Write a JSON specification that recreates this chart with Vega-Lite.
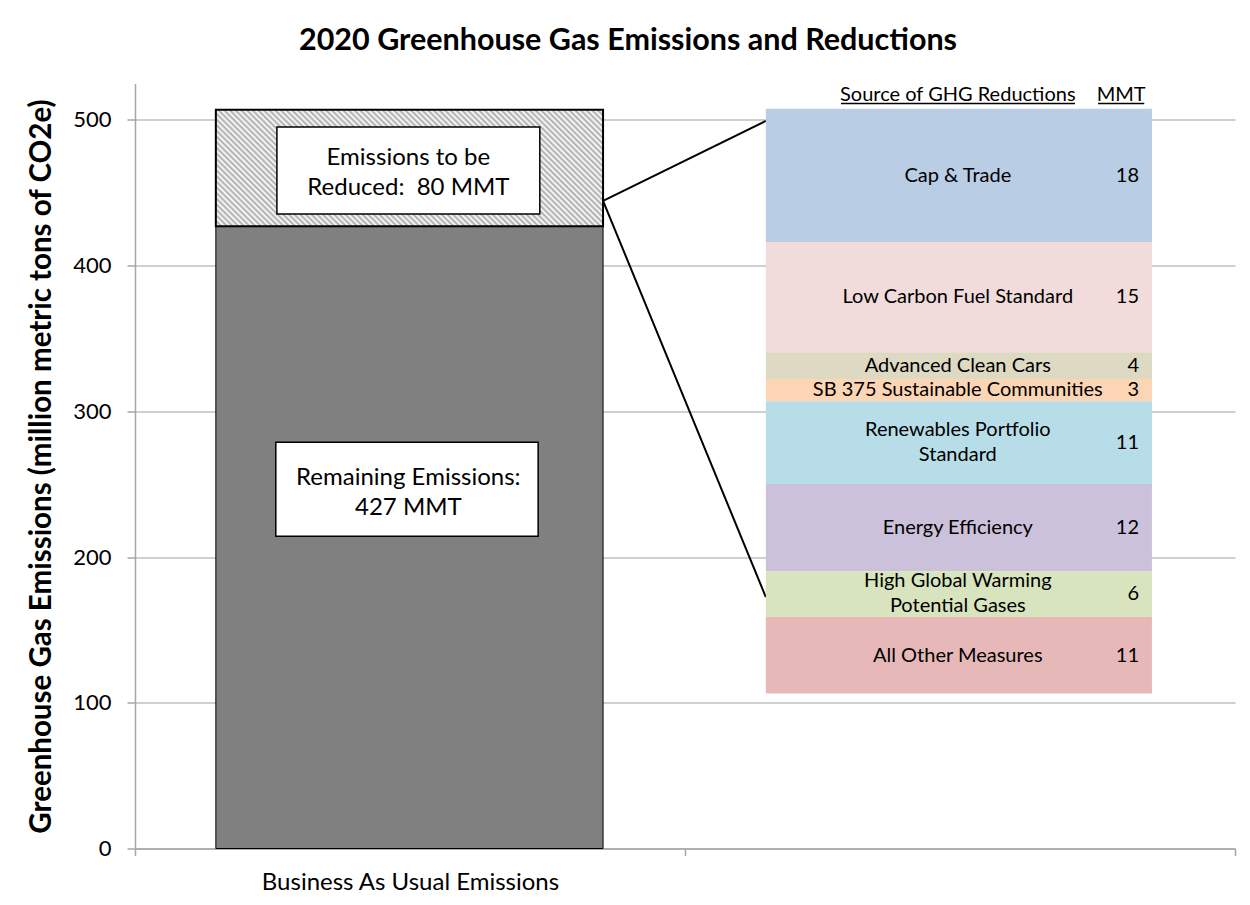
{
  "$schema": "https://vega.github.io/schema/vega-lite/v6.json",
  "width": 1100,
  "height": 765,
  "padding": {"left": 26, "top": 25.5, "right": 15, "bottom": 10},
  "background": "white",
  "config": {"font": "Lato", "view": {"stroke": null}, "text": {"lineBreak": "\n"}},
  "title": {"text": "2020 Greenhouse Gas Emissions and Reductions", "fontSize": 30.5, "fontWeight": "bold", "color": "#000000", "frame": "group", "anchor": "middle", "baseline": "alphabetic", "dx": -57, "offset": 3},
  "datasets": {
    "blocks": [
      {"source": "Cap & Trade", "mmt": 18, "top": 507.6, "bottom": 416.3, "mid": 461.5, "labelY": 461.5},
      {"source": "Low Carbon Fuel Standard", "mmt": 15, "top": 416.3, "bottom": 340.6, "mid": 378.4, "labelY": 378.4},
      {"source": "Advanced Clean Cars", "mmt": 4, "top": 340.6, "bottom": 322.2, "mid": 331.2, "labelY": 331.2},
      {"source": "SB 375 Sustainable Communities", "mmt": 3, "top": 322.2, "bottom": 307.0, "mid": 315.0, "labelY": 315.0},
      {"source": "Renewables Portfolio\nStandard", "mmt": 11, "top": 307.0, "bottom": 250.2, "mid": 278.5, "labelY": 286.9},
      {"source": "Energy Efficiency", "mmt": 12, "top": 250.2, "bottom": 190.3, "mid": 220.0, "labelY": 220.0},
      {"source": "High Global Warming\nPotential Gases", "mmt": 6, "top": 190.3, "bottom": 158.9, "mid": 174.5, "labelY": 183.3},
      {"source": "All Other Measures", "mmt": 11, "top": 158.9, "bottom": 106.4, "mid": 132.3, "labelY": 132.3}
    ]
  },
  "resolve": {"axis": {"x": "independent"}},
  "layer": [
    {
      "data": {"values": [{"part": "Remaining Emissions", "lo": 0, "hi": 427}]},
      "mark": {"type": "rect", "fill": "#808080", "stroke": "#000000", "strokeWidth": 1},
      "encoding": {
        "x": {"datum": 0.147, "type": "quantitative", "scale": {"domain": [0, 2], "nice": false},
          "axis": {"orient": "bottom", "values": [0, 1, 2], "title": null, "grid": false, "labels": false,
            "domainColor": "#a6a6a6", "domainWidth": 1.5, "tickColor": "#a6a6a6", "tickSize": 7, "tickWidth": 1.5}},
        "x2": {"datum": 0.851},
        "y": {"field": "lo", "type": "quantitative", "scale": {"domain": [0, 525], "nice": false},
          "axis": {"values": [0, 100, 200, 300, 400, 500], "title": "Greenhouse Gas Emissions (million metric tons of CO2e)",
            "titleFontSize": 29.5, "titleFontWeight": "bold", "titleColor": "#000000", "titlePadding": 16,
            "grid": true, "gridColor": "#bfbfbf", "gridWidth": 1.5, "domainColor": "#a6a6a6", "domainWidth": 1.5,
            "tickColor": "#a6a6a6", "tickSize": 8, "tickWidth": 1.5, "labelFontSize": 22, "labelColor": "#000000", "labelPadding": 16}},
        "y2": {"field": "hi"}
      }
    },
    {
      "data": {"values": [{"part": "Emissions to be Reduced", "lo": 427, "hi": 507}]},
      "mark": {"type": "rect", "stroke": "#000000", "strokeWidth": 2,
        "fill": {"gradient": "linear", "x1": 0, "y1": 1, "x2": 1.34, "y2": 0.5965, "stops": [
          {"offset": 0, "color": "darkgray"}, {"offset": 0.005, "color": "white"}, {"offset": 0.01, "color": "darkgray"}, {"offset": 0.015, "color": "white"},
          {"offset": 0.02, "color": "darkgray"}, {"offset": 0.025, "color": "white"}, {"offset": 0.03, "color": "darkgray"}, {"offset": 0.035, "color": "white"},
          {"offset": 0.04, "color": "darkgray"}, {"offset": 0.045, "color": "white"}, {"offset": 0.05, "color": "darkgray"}, {"offset": 0.055, "color": "white"},
          {"offset": 0.06, "color": "darkgray"}, {"offset": 0.065, "color": "white"}, {"offset": 0.07, "color": "darkgray"}, {"offset": 0.075, "color": "white"},
          {"offset": 0.08, "color": "darkgray"}, {"offset": 0.085, "color": "white"}, {"offset": 0.09, "color": "darkgray"}, {"offset": 0.095, "color": "white"},
          {"offset": 0.1, "color": "darkgray"}, {"offset": 0.105, "color": "white"}, {"offset": 0.11, "color": "darkgray"}, {"offset": 0.115, "color": "white"},
          {"offset": 0.12, "color": "darkgray"}, {"offset": 0.125, "color": "white"}, {"offset": 0.13, "color": "darkgray"}, {"offset": 0.135, "color": "white"},
          {"offset": 0.14, "color": "darkgray"}, {"offset": 0.145, "color": "white"}, {"offset": 0.15, "color": "darkgray"}, {"offset": 0.155, "color": "white"},
          {"offset": 0.16, "color": "darkgray"}, {"offset": 0.165, "color": "white"}, {"offset": 0.17, "color": "darkgray"}, {"offset": 0.175, "color": "white"},
          {"offset": 0.18, "color": "darkgray"}, {"offset": 0.185, "color": "white"}, {"offset": 0.19, "color": "darkgray"}, {"offset": 0.195, "color": "white"},
          {"offset": 0.2, "color": "darkgray"}, {"offset": 0.205, "color": "white"}, {"offset": 0.21, "color": "darkgray"}, {"offset": 0.215, "color": "white"},
          {"offset": 0.22, "color": "darkgray"}, {"offset": 0.225, "color": "white"}, {"offset": 0.23, "color": "darkgray"}, {"offset": 0.235, "color": "white"},
          {"offset": 0.24, "color": "darkgray"}, {"offset": 0.245, "color": "white"}, {"offset": 0.25, "color": "darkgray"}, {"offset": 0.255, "color": "white"},
          {"offset": 0.26, "color": "darkgray"}, {"offset": 0.265, "color": "white"}, {"offset": 0.27, "color": "darkgray"}, {"offset": 0.275, "color": "white"},
          {"offset": 0.28, "color": "darkgray"}, {"offset": 0.285, "color": "white"}, {"offset": 0.29, "color": "darkgray"}, {"offset": 0.295, "color": "white"},
          {"offset": 0.3, "color": "darkgray"}, {"offset": 0.305, "color": "white"}, {"offset": 0.31, "color": "darkgray"}, {"offset": 0.315, "color": "white"},
          {"offset": 0.32, "color": "darkgray"}, {"offset": 0.325, "color": "white"}, {"offset": 0.33, "color": "darkgray"}, {"offset": 0.335, "color": "white"},
          {"offset": 0.34, "color": "darkgray"}, {"offset": 0.345, "color": "white"}, {"offset": 0.35, "color": "darkgray"}, {"offset": 0.355, "color": "white"},
          {"offset": 0.36, "color": "darkgray"}, {"offset": 0.365, "color": "white"}, {"offset": 0.37, "color": "darkgray"}, {"offset": 0.375, "color": "white"},
          {"offset": 0.38, "color": "darkgray"}, {"offset": 0.385, "color": "white"}, {"offset": 0.39, "color": "darkgray"}, {"offset": 0.395, "color": "white"},
          {"offset": 0.4, "color": "darkgray"}, {"offset": 0.405, "color": "white"}, {"offset": 0.41, "color": "darkgray"}, {"offset": 0.415, "color": "white"},
          {"offset": 0.42, "color": "darkgray"}, {"offset": 0.425, "color": "white"}, {"offset": 0.43, "color": "darkgray"}, {"offset": 0.435, "color": "white"},
          {"offset": 0.44, "color": "darkgray"}, {"offset": 0.445, "color": "white"}, {"offset": 0.45, "color": "darkgray"}, {"offset": 0.455, "color": "white"},
          {"offset": 0.46, "color": "darkgray"}, {"offset": 0.465, "color": "white"}, {"offset": 0.47, "color": "darkgray"}, {"offset": 0.475, "color": "white"},
          {"offset": 0.48, "color": "darkgray"}, {"offset": 0.485, "color": "white"}, {"offset": 0.49, "color": "darkgray"}, {"offset": 0.495, "color": "white"},
          {"offset": 0.5, "color": "darkgray"}, {"offset": 0.505, "color": "white"}, {"offset": 0.51, "color": "darkgray"}, {"offset": 0.515, "color": "white"},
          {"offset": 0.52, "color": "darkgray"}, {"offset": 0.525, "color": "white"}, {"offset": 0.53, "color": "darkgray"}, {"offset": 0.535, "color": "white"},
          {"offset": 0.54, "color": "darkgray"}, {"offset": 0.545, "color": "white"}, {"offset": 0.55, "color": "darkgray"}, {"offset": 0.555, "color": "white"},
          {"offset": 0.56, "color": "darkgray"}, {"offset": 0.565, "color": "white"}, {"offset": 0.57, "color": "darkgray"}, {"offset": 0.575, "color": "white"},
          {"offset": 0.58, "color": "darkgray"}, {"offset": 0.585, "color": "white"}, {"offset": 0.59, "color": "darkgray"}, {"offset": 0.595, "color": "white"},
          {"offset": 0.6, "color": "darkgray"}, {"offset": 0.605, "color": "white"}, {"offset": 0.61, "color": "darkgray"}, {"offset": 0.615, "color": "white"},
          {"offset": 0.62, "color": "darkgray"}, {"offset": 0.625, "color": "white"}, {"offset": 0.63, "color": "darkgray"}, {"offset": 0.635, "color": "white"},
          {"offset": 0.64, "color": "darkgray"}, {"offset": 0.645, "color": "white"}, {"offset": 0.65, "color": "darkgray"}, {"offset": 0.655, "color": "white"},
          {"offset": 0.66, "color": "darkgray"}, {"offset": 0.665, "color": "white"}, {"offset": 0.67, "color": "darkgray"}, {"offset": 0.675, "color": "white"},
          {"offset": 0.68, "color": "darkgray"}, {"offset": 0.685, "color": "white"}, {"offset": 0.69, "color": "darkgray"}, {"offset": 0.695, "color": "white"},
          {"offset": 0.7, "color": "darkgray"}, {"offset": 0.705, "color": "white"}, {"offset": 0.71, "color": "darkgray"}, {"offset": 0.715, "color": "white"},
          {"offset": 0.72, "color": "darkgray"}, {"offset": 0.725, "color": "white"}, {"offset": 0.73, "color": "darkgray"}, {"offset": 0.735, "color": "white"},
          {"offset": 0.74, "color": "darkgray"}, {"offset": 0.745, "color": "white"}, {"offset": 0.75, "color": "darkgray"}, {"offset": 0.755, "color": "white"},
          {"offset": 0.76, "color": "darkgray"}, {"offset": 0.765, "color": "white"}, {"offset": 0.77, "color": "darkgray"}, {"offset": 0.775, "color": "white"},
          {"offset": 0.78, "color": "darkgray"}, {"offset": 0.785, "color": "white"}, {"offset": 0.79, "color": "darkgray"}, {"offset": 0.795, "color": "white"},
          {"offset": 0.8, "color": "darkgray"}, {"offset": 0.805, "color": "white"}, {"offset": 0.81, "color": "darkgray"}, {"offset": 0.815, "color": "white"},
          {"offset": 0.82, "color": "darkgray"}, {"offset": 0.825, "color": "white"}, {"offset": 0.83, "color": "darkgray"}, {"offset": 0.835, "color": "white"},
          {"offset": 0.84, "color": "darkgray"}, {"offset": 0.845, "color": "white"}, {"offset": 0.85, "color": "darkgray"}, {"offset": 0.855, "color": "white"},
          {"offset": 0.86, "color": "darkgray"}, {"offset": 0.865, "color": "white"}, {"offset": 0.87, "color": "darkgray"}, {"offset": 0.875, "color": "white"},
          {"offset": 0.88, "color": "darkgray"}, {"offset": 0.885, "color": "white"}, {"offset": 0.89, "color": "darkgray"}, {"offset": 0.895, "color": "white"},
          {"offset": 0.9, "color": "darkgray"}
        ]}},
      "encoding": {
        "x": {"datum": 0.147, "type": "quantitative",
          "axis": {"orient": "bottom", "values": [0.5], "title": null, "grid": false, "ticks": false, "domain": false,
            "labelExpr": "'Business As Usual Emissions'", "labelFontSize": 24, "labelPadding": 22, "labelColor": "#000000",
            "labelLimit": 0, "labelFlush": false, "labelOverlap": false}},
        "x2": {"datum": 0.851},
        "y": {"field": "lo", "type": "quantitative"},
        "y2": {"field": "hi"}
      }
    },
    {
      "data": {"values": [
        {"box": "Emissions to be Reduced", "lo": 435.4, "hi": 495.2}
      ]},
      "mark": {"type": "rect", "fill": "white", "stroke": "#000000", "strokeWidth": 1.5},
      "encoding": {
        "x": {"datum": 0.258, "type": "quantitative", "axis": null},
        "x2": {"datum": 0.736},
        "y": {"field": "lo", "type": "quantitative"},
        "y2": {"field": "hi"}
      }
    },
    {
      "data": {"values": [
        {"box": "Remaining Emissions", "lo": 214.3, "hi": 278.8}
      ]},
      "mark": {"type": "rect", "fill": "white", "stroke": "#000000", "strokeWidth": 1.5},
      "encoding": {
        "x": {"datum": 0.256, "type": "quantitative", "axis": null},
        "x2": {"datum": 0.733},
        "y": {"field": "lo", "type": "quantitative"},
        "y2": {"field": "hi"}
      }
    },
    {
      "data": {"values": [
        {"txt": "Emissions to be\nReduced:\u00a0\u00a080 MMT", "y": 473.6},
        {"txt": "Remaining Emissions:\n427 MMT", "y": 254.0}
      ]},
      "mark": {"type": "text", "fontSize": 24, "lineHeight": 30, "align": "center", "baseline": "middle", "color": "#000000"},
      "encoding": {
        "x": {"datum": 0.497, "type": "quantitative", "axis": null},
        "y": {"field": "y", "type": "quantitative"},
        "text": {"field": "txt", "type": "nominal"}
      }
    },
    {
      "data": {"values": [
        {"target": "top", "from": 444.5, "to": 499.3},
        {"target": "bottom", "from": 444.5, "to": 172.5}
      ]},
      "mark": {"type": "rule", "color": "#000000", "strokeWidth": 2},
      "encoding": {
        "x": {"datum": 0.851, "type": "quantitative", "axis": null},
        "x2": {"datum": 1.147},
        "y": {"field": "from", "type": "quantitative"},
        "y2": {"field": "to"}
      }
    },
    {
      "data": {"name": "blocks"},
      "mark": {"type": "rect"},
      "encoding": {
        "x": {"datum": 1.147, "type": "quantitative", "axis": null},
        "x2": {"datum": 1.849},
        "y": {"field": "bottom", "type": "quantitative"},
        "y2": {"field": "top"},
        "fill": {"field": "source", "type": "nominal", "legend": null, "scale": {
          "domain": ["Cap & Trade", "Low Carbon Fuel Standard", "Advanced Clean Cars", "SB 375 Sustainable Communities", "Renewables Portfolio\nStandard", "Energy Efficiency", "High Global Warming\nPotential Gases", "All Other Measures"],
          "range": ["#b9cde5", "#f2dcdb", "#ddd9c3", "#fcd5b5", "#b7dee8", "#ccc1da", "#d7e4bd", "#e6b9b8"]}}
      }
    },
    {
      "data": {"name": "blocks"},
      "mark": {"type": "text", "fontSize": 20, "lineHeight": 24.5, "align": "center", "baseline": "middle", "color": "#000000"},
      "encoding": {
        "x": {"datum": 1.496, "type": "quantitative", "axis": null},
        "y": {"field": "labelY", "type": "quantitative"},
        "text": {"field": "source", "type": "nominal"}
      }
    },
    {
      "data": {"name": "blocks"},
      "mark": {"type": "text", "fontSize": 20, "align": "right", "baseline": "middle", "color": "#000000"},
      "encoding": {
        "x": {"datum": 1.8255, "type": "quantitative", "axis": null},
        "y": {"field": "mid", "type": "quantitative"},
        "text": {"field": "mmt", "type": "quantitative"}
      }
    },
    {
      "data": {"values": [
        {"t": "Source of GHG Reductions", "y": 516.8}
      ]},
      "mark": {"type": "text", "fontSize": 20, "align": "center", "baseline": "middle", "color": "#000000"},
      "encoding": {
        "x": {"datum": 1.496, "type": "quantitative", "axis": null},
        "y": {"field": "y", "type": "quantitative"},
        "text": {"field": "t", "type": "nominal"}
      }
    },
    {
      "data": {"values": [
        {"t": "MMT", "y": 516.8}
      ]},
      "mark": {"type": "text", "fontSize": 20, "align": "center", "baseline": "middle", "color": "#000000"},
      "encoding": {
        "x": {"datum": 1.793, "type": "quantitative", "axis": null},
        "y": {"field": "y", "type": "quantitative"},
        "text": {"field": "t", "type": "nominal"}
      }
    },
    {
      "data": {"values": [{"under": "Source of GHG Reductions", "y": 511.2}]},
      "mark": {"type": "rule", "color": "#000000", "strokeWidth": 1.5},
      "encoding": {
        "x": {"datum": 1.2836, "type": "quantitative", "axis": null},
        "x2": {"datum": 1.709},
        "y": {"field": "y", "type": "quantitative"}
      }
    },
    {
      "data": {"values": [{"under": "MMT", "y": 511.2}]},
      "mark": {"type": "rule", "color": "#000000", "strokeWidth": 1.5},
      "encoding": {
        "x": {"datum": 1.751, "type": "quantitative", "axis": null},
        "x2": {"datum": 1.835},
        "y": {"field": "y", "type": "quantitative"}
      }
    }
  ]
}
